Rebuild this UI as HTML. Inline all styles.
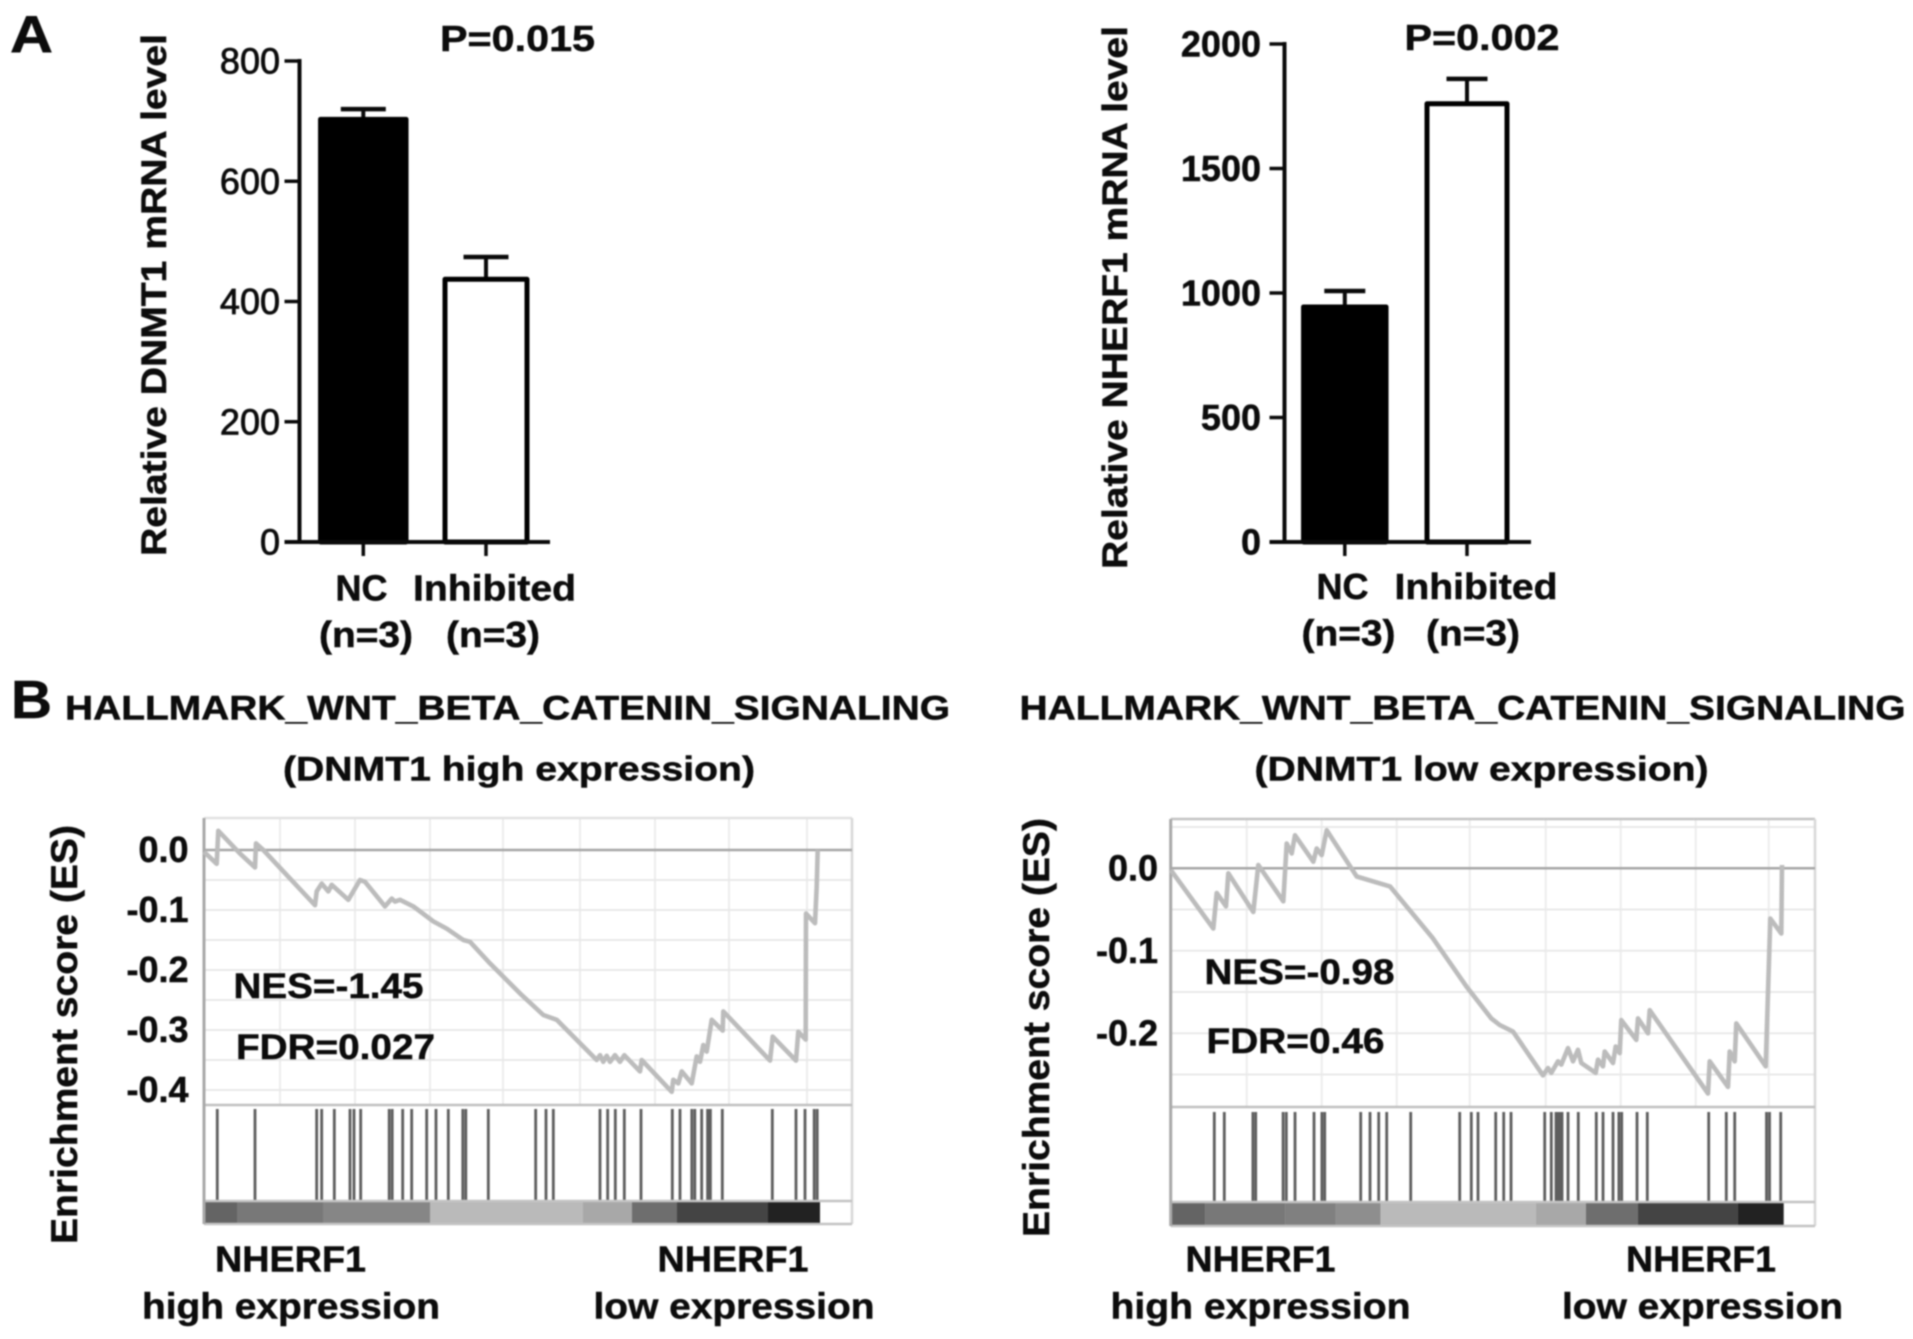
<!DOCTYPE html>
<html>
<head>
<meta charset="utf-8">
<title>DNMT1 and NHERF1 expression and GSEA enrichment</title>
<style>
html,body{margin:0;padding:0;background:#fff;width:1913px;height:1339px;overflow:hidden}
svg{display:block;filter:blur(0.85px)}
text{font-family:"Liberation Sans",Arial,sans-serif;fill:#0c0c0c;stroke:#0c0c0c;stroke-width:0.5px}
</style>
</head>
<body>
<svg id="figure" xmlns="http://www.w3.org/2000/svg" width="1913" height="1339" viewBox="0 0 1913 1339"></svg>
<script>
// ---- Panel A data ----
const barCategories = ["NC", "Inhibited"];
const barSampleSizes = ["(n=3)", "(n=3)"];
const dnmt1Means = [703, 437];
const dnmt1Errors = [17, 37];
const dnmt1Ticks = [0, 200, 400, 600, 800];
const nherf1Means = [944, 1760];
const nherf1Errors = [64, 100];
const nherf1Ticks = [0, 500, 1000, 1500, 2000];

// ---- Panel B data: running enrichment score ----
const gseaHighRanks = [0,317,358,900,1275,1300,1483,2775,2817,2942,3108,3192,3608,3900,4025,4525,4692,4775,4900,5233,5733,6067,6483,6650,7150,7900,8483,8817,9817,9900,9983,10067,10150,10275,10400,10508,10900,10942,11692,11733,11858,11942,12192,12317,12400,12483,12567,12692,12967,12983,14150,14217,14800,14858,15042,15050,15275,15317,15342];
const gseaHighScores = [-0.003,-0.023,0.032,-0.006,-0.029,0.011,0,-0.092,-0.069,-0.056,-0.069,-0.058,-0.083,-0.05,-0.053,-0.094,-0.081,-0.086,-0.083,-0.094,-0.119,-0.131,-0.15,-0.153,-0.189,-0.239,-0.275,-0.283,-0.35,-0.342,-0.353,-0.343,-0.353,-0.342,-0.353,-0.342,-0.369,-0.35,-0.403,-0.383,-0.389,-0.369,-0.389,-0.344,-0.353,-0.325,-0.336,-0.283,-0.301,-0.269,-0.351,-0.311,-0.351,-0.303,-0.316,-0.106,-0.122,-0.061,0];
const gseaHighHits = [332,1275,2817,2942,3258,3650,3750,3917,4630,4705,4967,5192,5567,5800,6108,6470,6545,7108,8292,8550,8733,9900,10092,10283,10508,10925,11708,11900,12195,12270,12442,12590,12660,12958,14208,14800,15025,15255,15330];
const gseaHighBarEnds = [825,2975,5650,9475,10700,11825,14100,15400];
const gseaHighBarLevels = [100,120,134,186,168,110,68,34];
const gseaHighTicks = [0,-0.1,-0.2,-0.3,-0.4];
const gseaHighGridScores = [-0.05,-0.1,-0.15,-0.2,-0.25,-0.3,-0.35,-0.4];
const gseaHighGridRanks = [1900,3775,5650,7475,9400,11275,13125,15075];

const gseaLowRanks = [0,1066,1150,1383,1441,2066,2191,2816,2900,3025,3108,3566,3650,3775,3900,4650,5483,6558,7391,8016,8225,8558,9308,9433,9516,9683,9766,9933,10058,10183,10266,10625,10683,10808,10850,11058,11124,11225,11266,11641,11683,11933,11974,13433,13475,13933,13975,14100,14141,14875,14991,15266,15283];
const gseaLowScores = [-0.002,-0.073,-0.03,-0.046,-0.006,-0.053,0.004,-0.04,0.03,0.018,0.04,0.008,0.024,0.016,0.046,-0.01,-0.022,-0.085,-0.143,-0.182,-0.19,-0.198,-0.251,-0.242,-0.248,-0.234,-0.238,-0.218,-0.234,-0.22,-0.236,-0.248,-0.232,-0.24,-0.222,-0.236,-0.216,-0.224,-0.184,-0.208,-0.182,-0.2,-0.172,-0.273,-0.234,-0.265,-0.222,-0.234,-0.188,-0.24,-0.061,-0.079,0.004];
const gseaLowHits = [1090,1340,2055,2125,2810,2890,3108,3583,3780,3850,4750,4983,5200,5400,6000,7225,7515,7683,8125,8325,8508,9350,9515,9633,9683,9733,9783,9933,10190,10640,10808,11058,11205,11275,11658,11915,13450,13890,14100,14895,14970,15250];
const gseaLowBarEnds = [860,2860,4130,5250,9130,10380,11680,14180,15325];
const gseaLowBarLevels = [100,120,128,142,186,168,110,68,34];
const gseaLowTicks = [0,-0.1,-0.2];
const gseaLowGridScores = [0.05,-0.05,-0.1,-0.15,-0.2,-0.25];
const gseaLowGridRanks = [1900,3775,5650,7475,9375,11250,13125,14950];

const svg = document.getElementById('figure');
const NS = 'http://www.w3.org/2000/svg';

function make(tag, parent, props) {
  const el = document.createElementNS(NS, tag);
  for (const k in props) el.setAttribute(k, props[k]);
  parent.appendChild(el);
  return el;
}
function line(parent, x1, y1, x2, y2, color, w) {
  return make('line', parent, {x1, y1, x2, y2, stroke: color, 'stroke-width': w});
}
function text(parent, str, x, y, size, opts) {
  const o = opts || {};
  const p = {x, y, 'font-size': size, 'font-weight': o.weight || 'bold'};
  if (o.anchor) p['text-anchor'] = o.anchor;
  if (o.len) { p.textLength = o.len; p.lengthAdjust = 'spacingAndGlyphs'; }
  if (o.rotate) p.transform = 'rotate(-90 ' + x + ' ' + y + ')';
  if (o.stroke) { p.style = 'stroke-width:' + o.stroke + 'px'; }
  const el = make('text', parent, p);
  el.textContent = str;
  return el;
}

function drawBarPanel(cfg) {
  const g = make('g', svg, {});
  
  
  const maxV = cfg.ticks[cfg.ticks.length - 1];
  const y = v => cfg.y0 - v * (cfg.y0 - cfg.yTop) / maxV;
  const ink = '#0a0a0a';

  cfg.means.forEach((m, i) => {
    const cx = cfg.centers[i];
    const err = cfg.errors[i];
    const stem = line(g, cx, y(m), cx, y(m + err), ink, 4);
    
    
    const cap = line(g, cx - cfg.capW / 2, y(m + err), cx + cfg.capW / 2, y(m + err), ink, 4.5);
    
    
    const bar = make('rect', g, {
      x: cx - cfg.barW[i] / 2 + 2.5, y: y(m), width: cfg.barW[i] - 5, height: cfg.y0 - y(m),
      fill: i === 0 ? '#000' : '#fff', stroke: '#000', 'stroke-width': 5, 'stroke-linejoin': 'round'
    });
    
    
    const tick = line(g, cx, cfg.y0, cx, cfg.y0 + 14, ink, 3.5);
    
    
    const cat = text(g, barCategories[i], cfg.catX[i], cfg.catY, 36, {len: cfg.catLen[i]});
    
    
    const n = text(g, barSampleSizes[i], cfg.nX[i], cfg.nY, 36, {len: 94});
    
    
  });

  const yAxis = line(g, cfg.axisX, cfg.yTop - 2, cfg.axisX, cfg.y0 + 2, ink, 4);
  
  
  const xAxis = line(g, cfg.axisX - 15, cfg.y0, cfg.xEnd, cfg.y0, ink, 4);
  
  

  cfg.ticks.forEach(t => {
    const tk = line(g, cfg.axisX - 15, y(t), cfg.axisX, y(t), ink, 3.5);
    
    
    const lb = text(g, String(t), cfg.labelX, y(t) + 12.5, 36, {anchor: 'end', weight: cfg.tickWeight, stroke: cfg.tickStroke});
    
    
  });

  const title = text(g, cfg.title, cfg.titleX, cfg.titleY, 35, {rotate: true, len: cfg.titleLen});
  
  
  const p = text(g, cfg.pText, cfg.pX, cfg.pY, 36, {len: cfg.pLen});
  
  
}

function drawGseaPanel(cfg) {
  const g = make('g', svg, {});
  
  
  const x = r => cfg.left + r / 25;
  const y = s => cfg.zeroY - s * cfg.pxPerUnit;

  cfg.gridRanks.forEach(r => {
    const v = line(g, x(r), cfg.top, x(r), cfg.sepY, '#ededed', 2);
    
    
  });
  cfg.gridScores.forEach(s => {
    const h = line(g, cfg.left, y(s), cfg.right, y(s), '#e9e9e9', 2);
    
    
  });

  cfg.hits.forEach(r => {
    const h = line(g, x(r), cfg.hitTop, x(r), cfg.barTop, '#5e5e5e', 2.8);
    
    
  });

  let prev = 0;
  cfg.barEnds.forEach((end, i) => {
    const l = cfg.barLevels[i];
    const seg = make('rect', g, {
      x: x(prev), y: cfg.barTop, width: x(end) - x(prev), height: cfg.bottom - cfg.barTop,
      fill: 'rgb(' + l + ',' + l + ',' + l + ')'
    });
    
    
    prev = end;
  });

  const topBorder = line(g, cfg.left, cfg.top, cfg.right, cfg.top, cfg.topColor, 2.5);
  
  
  const rightBorder = line(g, cfg.right, cfg.top, cfg.right, cfg.bottom, '#d8d8d8', 2.5);
  
  
  const bottomBorder = line(g, cfg.left, cfg.bottom, cfg.right, cfg.bottom, '#c4c4c4', 2.5);
  
  
  const barTopLine = line(g, cfg.left, cfg.barTop, cfg.right, cfg.barTop, '#c4c4c4', 2.5);
  
  
  const sep = line(g, cfg.left, cfg.sepY, cfg.right, cfg.sepY, '#c0c0c0', 2.5);
  
  
  const leftBorder = line(g, cfg.left, cfg.top, cfg.left, cfg.bottom, '#a8a8a8', 3);
  
  
  const zero = line(g, cfg.left, y(0), cfg.right, y(0), '#a6a6a6', 2.5);
  
  

  const pts = cfg.ranks.map((r, i) => x(r).toFixed(1) + ',' + y(cfg.scores[i]).toFixed(1)).join(' ');
  const curve = make('polyline', g, {points: pts, fill: 'none', stroke: '#bcbcbc', 'stroke-width': 4.6, 'stroke-linejoin': 'round'});
  
  

  cfg.ticks.forEach(t => {
    const lb = text(g, t.toFixed(1), cfg.labelX, y(t) + 12, 36, {anchor: 'end'});
    
    
  });

  const yt = text(g, 'Enrichment score (ES)', cfg.titleX, cfg.titleY, 37, {rotate: true, len: 419});
  
  
  const nes = text(g, cfg.nes[0], cfg.nes[1], cfg.nes[2], 35, {len: cfg.nes[3]});
  
  
  const fdr = text(g, cfg.fdr[0], cfg.fdr[1], cfg.fdr[2], 35, {len: cfg.fdr[3]});
  
  
  cfg.bottomLabels.forEach(b => {
    const lb = text(g, b[0], b[1], b[2], 36, {len: b[3]});
    
    
  });
  cfg.headings.forEach(b => {
    const lb = text(g, b[0], b[1], b[2], 34, {len: b[3]});
    
    
  });
}

drawBarPanel({
  name: 'dnmt1-bar-chart', means: dnmt1Means, errors: dnmt1Errors, ticks: dnmt1Ticks,
  y0: 542, yTop: 61, axisX: 299.5, xEnd: 550, labelX: 280, tickWeight: 'normal', tickStroke: 0.8,
  centers: [363.3, 486], barW: [90.5, 87], capW: 45,
  catX: [335.5, 413], catLen: [52, 163], catY: 600.5, nX: [319, 446], nY: 647,
  title: 'Relative DNMT1 mRNA level', titleX: 166, titleY: 556, titleLen: 522,
  pText: 'P=0.015', pX: 440, pY: 51, pLen: 155
});
drawBarPanel({
  name: 'nherf1-bar-chart', means: nherf1Means, errors: nherf1Errors, ticks: nherf1Ticks,
  y0: 542, yTop: 44, axisX: 1284.5, xEnd: 1531, labelX: 1261, tickWeight: 'bold',
  centers: [1344.8, 1467], barW: [87.5, 85], capW: 41,
  catX: [1316.5, 1394.5], catLen: [52, 163], catY: 599, nX: [1301.5, 1426], nY: 645.5,
  title: 'Relative NHERF1 mRNA level', titleX: 1127, titleY: 569, titleLen: 543,
  pText: 'P=0.002', pX: 1404.5, pY: 50, pLen: 155
});
drawGseaPanel({
  name: 'gsea-dnmt1-high', ranks: gseaHighRanks, scores: gseaHighScores, hits: gseaHighHits,
  barEnds: gseaHighBarEnds, barLevels: gseaHighBarLevels, ticks: gseaHighTicks,
  gridScores: gseaHighGridScores, gridRanks: gseaHighGridRanks,
  left: 204, right: 852, top: 818, bottom: 1224, zeroY: 850, pxPerUnit: 600,
  sepY: 1105, hitTop: 1109, barTop: 1201, topColor: '#e2e2e2',
  labelX: 188.5, titleX: 77, titleY: 1244,
  nes: ['NES=-1.45', 233.5, 998, 190], fdr: ['FDR=0.027', 236, 1059, 199],
  bottomLabels: [['NHERF1', 215, 1271.5, 151], ['high expression', 142, 1318.5, 298], ['NHERF1', 657.5, 1271.5, 151], ['low expression', 593.5, 1318.5, 281]],
  headings: [['HALLMARK_WNT_BETA_CATENIN_SIGNALING', 65, 719.5, 885], ['(DNMT1 high expression)', 283, 780.5, 472]]
});
drawGseaPanel({
  name: 'gsea-dnmt1-low', ranks: gseaLowRanks, scores: gseaLowScores, hits: gseaLowHits,
  barEnds: gseaLowBarEnds, barLevels: gseaLowBarLevels, ticks: gseaLowTicks,
  gridScores: gseaLowGridScores, gridRanks: gseaLowGridRanks,
  left: 1170.7, right: 1815, top: 819, bottom: 1226, zeroY: 868.3, pxPerUnit: 825,
  sepY: 1107, hitTop: 1112, barTop: 1202, topColor: '#c4c4c4',
  labelX: 1158, titleX: 1049, titleY: 1237,
  nes: ['NES=-0.98', 1204.5, 984, 190], fdr: ['FDR=0.46', 1206.5, 1053, 178],
  bottomLabels: [['NHERF1', 1185.5, 1271.5, 150], ['high expression', 1110.5, 1318.5, 300], ['NHERF1', 1626, 1271.5, 150], ['low expression', 1562, 1318.5, 281]],
  headings: [['HALLMARK_WNT_BETA_CATENIN_SIGNALING', 1019.5, 719.5, 886], ['(DNMT1 low expression)', 1254.5, 780.5, 454]]
});

const panelA = text(svg, 'A', 10, 52, 52, {len: 43});


const panelB = text(svg, 'B', 11, 718, 54, {len: 41});


</script>
</body>
</html>
